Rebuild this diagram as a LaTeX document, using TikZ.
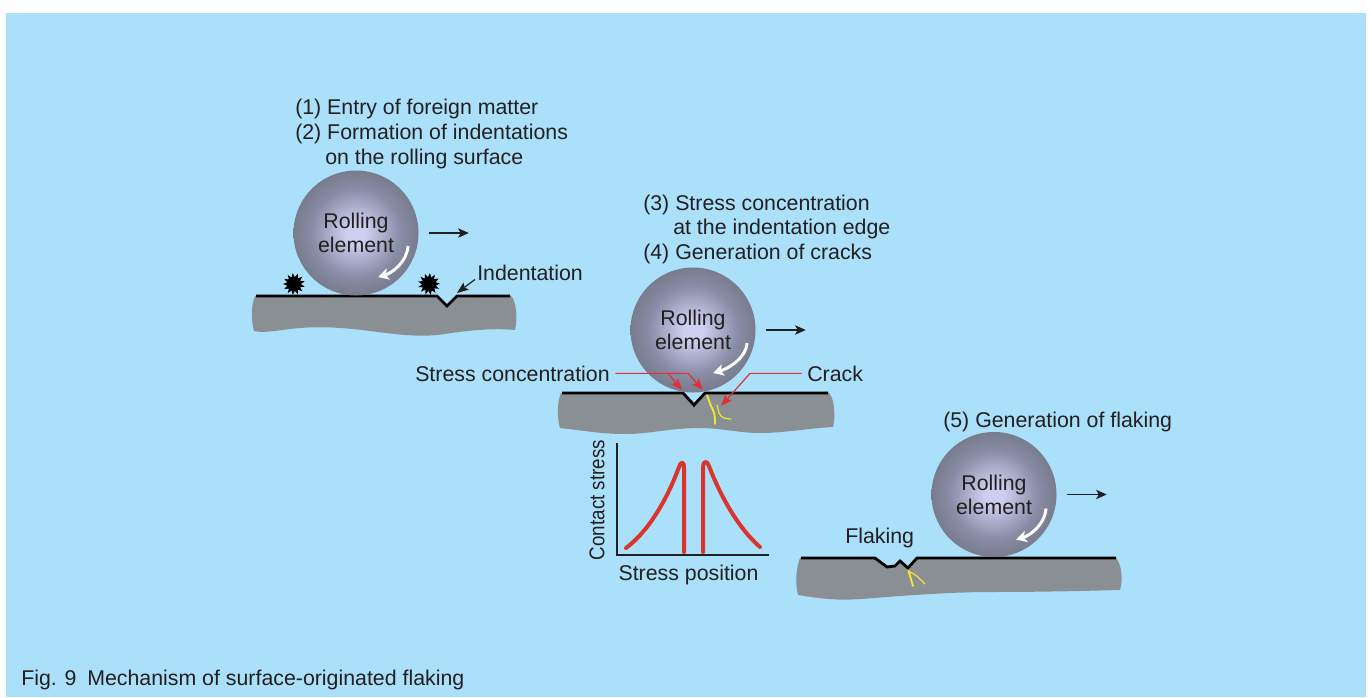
\documentclass[tikz,border=0pt]{standalone}
\usepackage{fontspec}
\usepackage{graphicx}
\setmainfont{Liberation Sans}
\usetikzlibrary{arrows.meta,shapes.geometric}

\definecolor{skybg}{RGB}{170,224,250}
\definecolor{steel}{RGB}{138,143,148}
\definecolor{txt}{RGB}{35,31,32}
\definecolor{stressred}{RGB}{228,48,52}
\definecolor{curvered}{RGB}{218,52,46}
\definecolor{crackyellow}{RGB}{245,228,48}
\definecolor{ballhi}{RGB}{206,206,240}
\definecolor{ballmid}{RGB}{136,139,164}
\definecolor{balllow}{RGB}{104,109,118}
\definecolor{balledge}{RGB}{86,91,96}

\pgfdeclareradialshading{rollball}{\pgfpoint{0bp}{0bp}}{%
  color(0bp)=(ballhi); color(4bp)=(ballhi); color(18bp)=(ballmid);
  color(32bp)=(balllow); color(46bp)=(balledge); color(60bp)=(balledge)}

\tikzset{
  lbl/.style={font=\fontsize{16}{18}\selectfont, text=txt, inner sep=0pt, anchor=base west},
  ballnode/.style={circle, minimum size=93.75pt, inner sep=0pt, shading=rollball,
    align=center, font=\fontsize{16}{18}\selectfont, text=txt},
  surface/.style={line width=2.1pt, black, line join=miter},
  body/.style={fill=steel},
  moveto/.style={-{Stealth[length=8pt,width=7pt,inset=2pt]}, line width=0.9pt, txt},
  spin/.style={white, line width=2.2pt, -{Stealth[length=8pt,width=8.5pt,inset=2pt]}},
  pointer/.style={-{Stealth[length=8.5pt,width=6.5pt,inset=1.5pt]}, line width=0.9pt},
  redline/.style={pointer, stressred},
  blackline/.style={pointer, txt},
  crack/.style={crackyellow, line width=1.4pt, line cap=round, line join=round},
  thincrack/.style={crackyellow, line width=0.9pt, line cap=round, line join=round},
  particle/.style={star, star points=13, star point ratio=1.6, minimum size=16.5pt,
    inner sep=0pt, fill=black},
  axis/.style={txt, line width=0.8pt},
  stresscurve/.style={curvered, line width=3pt, line cap=round, line join=round},
}

\begin{document}
\begin{tikzpicture}[x=0.75pt,y=-0.75pt]
\useasboundingbox (0,0) rectangle (1372,697);
\fill[skybg] (6,13) rectangle (1366,697);

% ---------- Stage 1: foreign matter and indentation ----------
\node[lbl] (t1a) at (295,114) {(1) Entry of foreign matter};
\node[lbl] (t1b) at (295,139) {(2) Formation of indentations};
\node[lbl] (t1c) at (325,164) {on the rolling surface};

\fill[body] (255,296) -- (437,296) -- (447,306) -- (457,296) -- (511,296)
  .. controls (516,300) and (518,318) .. (515,330)
  .. controls (495,328) and (470,330) .. (445,334)
  .. controls (420,338) and (395,334) .. (370,331)
  .. controls (340,327) and (315,326) .. (290,329)
  .. controls (275,331) and (262,333) .. (254,331)
  .. controls (251,320) and (251,305) .. (255,296) -- cycle;
\draw[surface] (256,296) -- (437,296) -- (447,306) -- (457,296) -- (510,296);
\coordinate (ind1R) at (457,296);

\node[particle, rotate=7] (dirtA) at (294,284) {};
\node[particle, rotate=-5] (dirtB) at (429,284) {};

\node[ballnode] (ball1) at (356,233) {Rolling\\element};
\draw[spin] ([shift={(52,13)}]ball1.center)
  .. controls +(-1,16) and +(14,-4) .. ([shift={(22,44)}]ball1.center);
\draw[moveto] ([xshift=7.5pt]ball1.east) -- ++(40,0);

\node[lbl] (indlab) at (477,280) {Indentation};
\draw[blackline] ([shift={(-2,-1)}]indlab.south west) -- ([shift={(0,-3)}]ind1R);

% ---------- Stage 2: stress concentration and cracks ----------
\node[lbl] (t2a) at (643,210) {(3) Stress concentration};
\node[lbl] (t2b) at (673,234) {at the indentation edge};
\node[lbl] (t2c) at (643,259) {(4) Generation of cracks};

\fill[body] (561,393) -- (683,393) -- (694,405) -- (705,393) -- (829,393)
  .. controls (834,398) and (836,415) .. (833,427)
  .. controls (810,428) and (785,433) .. (760,433)
  .. controls (740,433) and (720,428) .. (700,428)
  .. controls (670,428) and (650,434) .. (625,434)
  .. controls (600,434) and (580,430) .. (560,428)
  .. controls (557,418) and (557,402) .. (561,393) -- cycle;
\draw[crack] (707,395) -- (711,406) .. controls (714,411) and (715,414) .. (715,424);
\draw[thincrack] (717,405) -- (719,413) .. controls (721,418) and (726,419) .. (731,419);
\draw[surface] (562,393) -- (683,393) -- (694,405) -- (705,393) -- (828,393);
\coordinate (ind2L) at (683,393);
\coordinate (ind2R) at (705,393);
\coordinate (crtip) at (721,406);

\node[ballnode] (ball2) at (693,330) {Rolling\\element};
\draw[spin] ([shift={(54,13)}]ball2.center)
  .. controls +(-1,16) and +(14,-4) .. ([shift={(20,43)}]ball2.center);
\draw[moveto] ([xshift=7.5pt]ball2.east) -- ++(40,0);

\node[lbl] (sclab) at (415,381) {Stress concentration};
\node[lbl] (crlab) at (807,381) {Crack};
\coordinate (scsplit) at (668,375);
\coordinate (scbend) at (688,375);
\coordinate (crbend) at (750,375);
\draw[redline] ([xshift=4pt]sclab.east) -- (sclab.east -| scbend) -- ([shift={(-2,-3)}]ind2R);
\draw[redline] (sclab.east -| scsplit) -- ([shift={(-1,-3)}]ind2L);
\draw[redline] ([xshift=-4pt]crlab.west) -- (crlab.west -| crbend) -- (crtip);

% contact stress distribution
\coordinate (ytop) at (617,443);
\coordinate (origin) at (617,555);
\coordinate (xend) at (769,555);
\draw[axis] (ytop) -- (origin) -- (xend);
\draw[stresscurve] (626,548) .. controls (650,530) and (668,497) .. (679,467)
  .. controls (681,461) and (684,461) .. (684,468) -- (684,552);
\draw[stresscurve] (703,552) -- (703,467) .. controls (703,461) and (707,460) .. (709,466)
  .. controls (720,495) and (738,528) .. (760,547);
\node[font=\fontsize{16}{18}\selectfont, text=txt, inner sep=0pt, rotate=90] (ylab) at (597,500)
  {\scalebox{0.88}[1]{Contact stress}};
\node[font=\fontsize{16}{18}\selectfont, text=txt, inner sep=0pt, anchor=base] (xlab) at (688.5,580)
  {Stress position};

% ---------- Stage 3: flaking ----------
\node[lbl] (t3a) at (943,427) {(5) Generation of flaking};

\fill[body] (800,558) -- (875,558) -- (887,567) -- (895,566) -- (900,561) -- (908,568)
  -- (917,558) -- (1116,558)
  .. controls (1122,565) and (1123,580) .. (1120,590)
  .. controls (1080,591) and (1040,592) .. (990,592)
  .. controls (960,592) and (930,594) .. (900,596)
  .. controls (870,598) and (850,601) .. (830,599)
  .. controls (815,598) and (805,596) .. (798,595)
  .. controls (795,583) and (796,568) .. (800,558) -- cycle;
\draw[crack] (908,569) -- (913,586);
\draw[thincrack] (910,572) .. controls (914,574) and (917,576) .. (919,578) -- (925,584);
\draw[surface] (801,558) -- (875,558) -- (887,567) -- (895,566) -- (900,561) -- (908,568)
  -- (917,558) -- (1116,558);

\node[ballnode] (ball3) at (994,494.5) {Rolling\\element};
\draw[spin] ([shift={(52,14)}]ball3.center)
  .. controls +(-1,16) and +(14,-4) .. ([shift={(22,45)}]ball3.center);
\draw[moveto] ([xshift=7.5pt]ball3.east) -- ++(40,0);

\node[lbl] (flaklab) at (845,543) {Flaking};

% ---------- caption ----------
\node[lbl] (caption) at (21,685) {Fig. 9\enspace Mechanism of surface-originated flaking};
\end{tikzpicture}
\end{document}
